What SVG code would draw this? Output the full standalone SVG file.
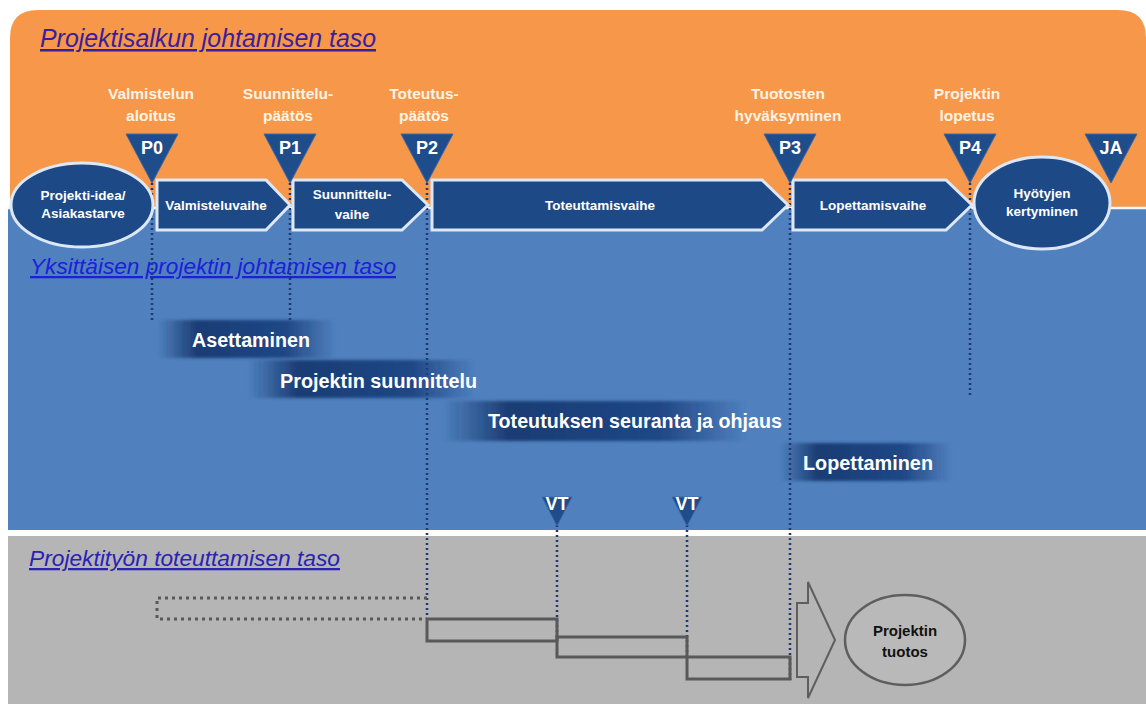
<svg xmlns="http://www.w3.org/2000/svg" width="1146" height="704" viewBox="0 0 1146 704">
  <defs>
    <style>
      .title { font-family: "Liberation Sans", Arial, sans-serif; font-style: italic; text-decoration: underline; }
      .ms { font-family: "Liberation Sans", Arial, sans-serif; font-weight: bold; font-size: 15.5px; fill: #FFF3E4; text-anchor: middle; }
      .tri { fill: #1F4C8A; stroke: #3B6AA8; stroke-width: 1; }
      .trilabel { font-family: "Liberation Sans", Arial, sans-serif; font-weight: bold; font-size: 18px; fill: #FFFFFF; text-anchor: middle; }
      .phase { fill: #1D4A87; stroke: #DCE8F6; stroke-width: 3; }
      .phasetext { font-family: "Liberation Sans", Arial, sans-serif; font-weight: bold; font-size: 13.5px; fill: #FFFFFF; text-anchor: middle; }
      .task { font-family: "Liberation Sans", Arial, sans-serif; font-weight: bold; font-size: 19.6px; fill: #FFFFFF; }
      .dots { fill: none; stroke: #1E3A72; stroke-width: 2.5; stroke-dasharray: 2 3; }
      .step { fill: none; stroke: #595959; stroke-width: 3; }
      .ghost { fill: none; stroke: #595959; stroke-width: 3; stroke-dasharray: 3 4; }
    </style>
    <linearGradient id="barFade" x1="0" y1="0" x2="1" y2="0">
      <stop offset="0" stop-color="#17386F" stop-opacity="0"/>
      <stop offset="0.22" stop-color="#17386F" stop-opacity="0.95"/>
      <stop offset="0.72" stop-color="#1B4180" stop-opacity="0.9"/>
      <stop offset="1" stop-color="#1B4180" stop-opacity="0"/>
    </linearGradient>
    <filter id="soft" x="-5%" y="-20%" width="110%" height="140%">
      <feGaussianBlur stdDeviation="1.5"/>
    </filter>
  </defs>

  <!-- background bands -->
  <rect x="0" y="0" width="1146" height="704" fill="#FFFFFF"/>
  <path d="M10,207 V38 Q10,10 38,10 H1118 Q1146,10 1146,38 V207 Z" fill="#F6974A"/>
  <rect x="8" y="209" width="1138" height="321" fill="#5081BE"/>
  <rect x="8" y="536" width="1138" height="168" fill="#B5B5B5"/>
  <line x1="8" y1="208" x2="1146" y2="208" stroke="#F4F8FC" stroke-width="2.5"/>

  <!-- level titles -->
  <text class="title" x="40" y="47" font-size="25" fill="#3B1E9C" textLength="336" lengthAdjust="spacingAndGlyphs">Projektisalkun johtamisen taso</text>
  <text class="title" x="30" y="274" font-size="22.6" fill="#1C20DA" textLength="366" lengthAdjust="spacingAndGlyphs">Yksittäisen projektin johtamisen taso</text>
  <text class="title" x="29" y="566" font-size="22.7" fill="#2A22B4" textLength="311" lengthAdjust="spacingAndGlyphs">Projektityön toteuttamisen taso</text>

  <!-- connectors: dotted milestone lines and the dotted lead-in -->
  <g id="connectors">
    <line class="dots" x1="152" y1="183" x2="152" y2="322"/>
    <line class="dots" x1="290" y1="183" x2="290" y2="322"/>
    <line class="dots" x1="427" y1="183" x2="427" y2="619"/>
    <line class="dots" x1="790" y1="183" x2="790" y2="680"/>
    <line class="dots" x1="970" y1="183" x2="970" y2="398"/>
    <line class="dots" x1="557" y1="525" x2="557" y2="637"/>
    <line class="dots" x1="687" y1="525" x2="687" y2="657"/>
    <path class="ghost" d="M427,598 H157 V619 H427"/>
  </g>

  <!-- milestone labels -->
  <g id="milestone-labels">
    <text class="ms" x="151" y="99">Valmistelun</text>
    <text class="ms" x="151" y="121">aloitus</text>
    <text class="ms" x="288" y="99">Suunnittelu-</text>
    <text class="ms" x="288" y="121">päätös</text>
    <text class="ms" x="424" y="99">Toteutus-</text>
    <text class="ms" x="424" y="121">päätös</text>
    <text class="ms" x="788" y="99">Tuotosten</text>
    <text class="ms" x="788" y="121">hyväksyminen</text>
    <text class="ms" x="967" y="99">Projektin</text>
    <text class="ms" x="967" y="121">lopetus</text>
  </g>

  <!-- phase chain -->
  <g id="idea">
    <ellipse class="phase" cx="82" cy="205" rx="71" ry="42"/>
    <text class="phasetext" x="83" y="200">Projekti-idea/</text>
    <text class="phasetext" x="83" y="218">Asiakastarve</text>
  </g>
  <g id="valmisteluvaihe">
    <polygon class="phase" points="157,180 266,180 290,205 266,230 157,230"/>
    <text class="phasetext" x="216" y="210">Valmisteluvaihe</text>
  </g>
  <g id="suunnitteluvaihe">
    <polygon class="phase" points="293,180 402,180 428,205 402,230 293,230"/>
    <text class="phasetext" x="352" y="199">Suunnittelu-</text>
    <text class="phasetext" x="352" y="219">vaihe</text>
  </g>
  <g id="toteuttamisvaihe">
    <polygon class="phase" points="432,180 762,180 788,205 762,230 432,230"/>
    <text class="phasetext" x="600" y="210">Toteuttamisvaihe</text>
  </g>
  <g id="lopettamisvaihe">
    <polygon class="phase" points="793,180 946,180 972,205 946,230 793,230"/>
    <text class="phasetext" x="873" y="210">Lopettamisvaihe</text>
  </g>
  <g id="hyodyt">
    <ellipse class="phase" cx="1042" cy="203" rx="68" ry="46"/>
    <text class="phasetext" x="1042" y="198">Hyötyjen</text>
    <text class="phasetext" x="1042" y="216">kertyminen</text>
  </g>

  <!-- milestone triangles -->
  <g id="P0"><polygon class="tri" points="126,134 178,134 152,183"/><text class="trilabel" x="152" y="154">P0</text></g>
  <g id="P1"><polygon class="tri" points="264,134 316,134 290,183"/><text class="trilabel" x="290" y="154">P1</text></g>
  <g id="P2"><polygon class="tri" points="401,134 453,134 427,183"/><text class="trilabel" x="427" y="154">P2</text></g>
  <g id="P3"><polygon class="tri" points="764,134 816,134 790,183"/><text class="trilabel" x="790" y="154">P3</text></g>
  <g id="P4"><polygon class="tri" points="944,134 996,134 970,183"/><text class="trilabel" x="970" y="154">P4</text></g>
  <g id="JA"><polygon class="tri" points="1085,134 1137,134 1111,183"/><text class="trilabel" x="1111" y="154">JA</text></g>

  <!-- management tasks -->
  <g id="asettaminen">
    <rect x="158" y="320" width="178" height="38" fill="url(#barFade)" filter="url(#soft)"/>
    <text class="task" x="192" y="347" textLength="118" lengthAdjust="spacingAndGlyphs">Asettaminen</text>
  </g>
  <g id="suunnittelu">
    <rect x="248" y="360" width="228" height="38" fill="url(#barFade)" filter="url(#soft)"/>
    <text class="task" x="280" y="388" textLength="197" lengthAdjust="spacingAndGlyphs">Projektin suunnittelu</text>
  </g>
  <g id="seuranta">
    <rect x="442" y="401" width="305" height="40" fill="url(#barFade)" filter="url(#soft)"/>
    <text class="task" x="488" y="428" textLength="294" lengthAdjust="spacingAndGlyphs">Toteutuksen seuranta ja ohjaus</text>
  </g>
  <g id="lopettaminen">
    <rect x="780" y="443" width="172" height="38" fill="url(#barFade)" filter="url(#soft)"/>
    <text class="task" x="803" y="470" textLength="130" lengthAdjust="spacingAndGlyphs">Lopettaminen</text>
  </g>

  <!-- steering group checkpoints -->
  <g id="VT1"><polygon class="tri" points="542,497 572,497 557,526"/><text class="trilabel" x="557" y="510" font-size="11">VT</text></g>
  <g id="VT2"><polygon class="tri" points="672,497 702,497 687,526"/><text class="trilabel" x="687" y="510" font-size="11">VT</text></g>

  <!-- work packages -->
  <g id="work1"><rect class="step" x="427" y="619" width="130" height="22"/></g>
  <g id="work2"><rect class="step" x="557" y="637" width="130" height="20"/></g>
  <g id="work3"><rect class="step" x="687" y="657" width="103" height="22"/></g>

  <g id="output-arrow">
    <polygon points="797,603 808,603 808,582 835,640 808,698 808,677 797,677" fill="none" stroke="#5E5E5E" stroke-width="2"/>
  </g>
  <g id="tuotos">
    <ellipse cx="905" cy="640" rx="60" ry="45" fill="#B9B9B9" stroke="#5E5E5E" stroke-width="2.5"/>
    <text x="905" y="636" font-family="Liberation Sans, Arial, sans-serif" font-weight="bold" font-size="15" fill="#111111" text-anchor="middle">Projektin</text>
    <text x="905" y="657" font-family="Liberation Sans, Arial, sans-serif" font-weight="bold" font-size="15" fill="#111111" text-anchor="middle">tuotos</text>
  </g>
</svg>
